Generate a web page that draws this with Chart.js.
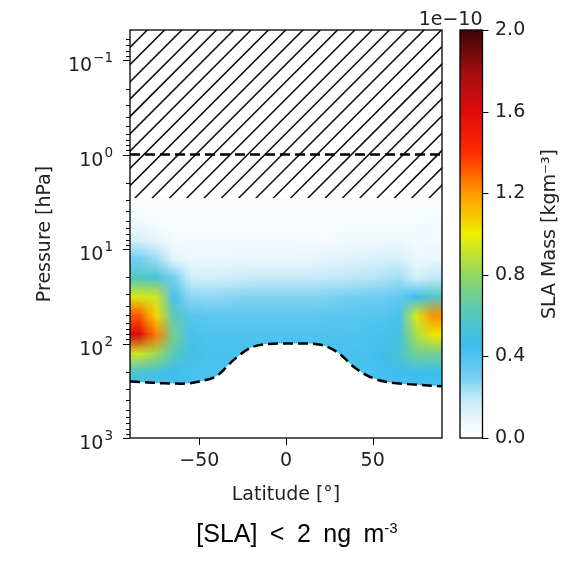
<!DOCTYPE html>
<html>
<head>
<meta charset="utf-8">
<script src="https://cdn.jsdelivr.net/npm/chart.js@4.4.1/dist/chart.umd.min.js"></script>
<style>
  html, body { margin: 0; padding: 0; background: #fff; }
  #wrap { position: relative; width: 574px; height: 564px; }
  #caption {
    position: absolute; left: 20px; top: 519px; width: 554px; text-align: center;
    font-family: 'Liberation Sans', Arial, sans-serif; font-size: 25px; line-height: 28px;
    word-spacing: 5.5px; color: #000;
  }
  #caption sup { font-size: 15px; vertical-align: 9px; line-height: 0; }
</style>
</head>
<body>
<div id="wrap">
  <canvas id="slaChart" width="574" height="564"></canvas>
  <div id="caption">[SLA] &lt; 2 ng m<sup>-3</sup></div>
</div>
<script>
// latitude cell centres (°) and pressure levels (hPa) of the SLA field
const latitudes = [-85, -75, -65, -55, -45, -35, -25, -15, -5, 5, 15, 25, 35, 45, 55, 65, 75, 85];
const pressureLevels = [3.16, 5.01, 7.94, 12.6, 20.0, 31.6, 50.1, 79.4, 126, 200, 316];

// SLA mass, units of 1e-10 kg m^-3, one row per pressure level
const slaMass = [
  [0.03, 0.02, 0.02, 0.02, 0.02, 0.02, 0.02, 0.02, 0.02, 0.02, 0.02, 0.02, 0.02, 0.02, 0.02, 0.02, 0.03, 0.03],
  [0.06, 0.04, 0.03, 0.03, 0.03, 0.03, 0.03, 0.03, 0.03, 0.03, 0.03, 0.03, 0.03, 0.03, 0.03, 0.04, 0.04, 0.05],
  [0.14, 0.10, 0.05, 0.05, 0.05, 0.05, 0.05, 0.05, 0.05, 0.05, 0.05, 0.05, 0.06, 0.06, 0.06, 0.07, 0.05, 0.06],
  [0.30, 0.25, 0.11, 0.08, 0.08, 0.08, 0.09, 0.09, 0.09, 0.09, 0.10, 0.11, 0.12, 0.13, 0.14, 0.15, 0.08, 0.09],
  [0.60, 0.55, 0.30, 0.16, 0.15, 0.16, 0.17, 0.18, 0.18, 0.18, 0.18, 0.19, 0.20, 0.21, 0.22, 0.24, 0.15, 0.20],
  [0.95, 0.92, 0.42, 0.27, 0.26, 0.27, 0.28, 0.28, 0.28, 0.28, 0.28, 0.29, 0.30, 0.31, 0.32, 0.35, 0.45, 0.60],
  [1.32, 1.05, 0.62, 0.38, 0.36, 0.36, 0.36, 0.36, 0.36, 0.36, 0.36, 0.37, 0.37, 0.38, 0.39, 0.42, 0.95, 1.22],
  [1.62, 1.25, 0.70, 0.42, 0.40, 0.40, 0.40, 0.40, 0.40, 0.40, 0.40, 0.40, 0.40, 0.41, 0.42, 0.50, 0.85, 1.02],
  [0.92, 0.82, 0.62, 0.48, 0.42, 0.42, 0.42, 0.42, 0.42, 0.42, 0.42, 0.42, 0.42, 0.42, 0.45, 0.55, 0.70, 0.70],
  [0.55, 0.50, 0.45, 0.42, 0.41, 0.41, 0.41, 0.41, 0.41, 0.41, 0.41, 0.41, 0.41, 0.42, 0.43, 0.45, 0.46, 0.45],
  [0.42, 0.42, 0.40, 0.40, 0.40, 0.40, 0.40, 0.40, 0.40, 0.40, 0.40, 0.40, 0.40, 0.40, 0.40, 0.42, 0.43, 0.42]
];

// tropopause (dashed curve)
const tropLat = [-90, -80, -70, -60, -50, -40, -30, -20, -10, 0, 10, 20, 30, 40, 50, 60, 70, 80, 90];
const tropPressure = [252, 258, 264, 266, 252, 220, 148, 110, 101, 100, 100, 103, 125, 182, 232, 258, 269, 276, 284];

const hatchTop = 2.9; // hatched above this level
const refLevel = 1;   // dashed line at 1 hPa

const latTicks = [-50, 0, 50];
const pressureTicks = [0.1, 1, 10, 100, 1000];
const cbTicks = [0, 0.4, 0.8, 1.2, 1.6, 2.0];

// colour map (value in 1e-10)
const cmapStops = [0, 0.1, 0.2, 0.3, 0.45, 0.6, 0.8, 1.0, 1.2, 1.4, 1.6, 1.8, 2.0];
const cmapColors = ['#ffffff', '#e8f6fc', '#bfe8f8', '#74cff1', '#3ebeee', '#52c7c2', '#93d862',
  '#f0ef00', '#ff9900', '#ff2b00', '#e00c0c', '#9e0e0e', '#3a0505'];

const textColor = '#222';
const font = { family: 'DejaVu Sans', size: 19 };
const hatchGap = 17.3;

const hexRgb = h => [1, 3, 5].map(i => parseInt(h.slice(i, i + 2), 16));
const colorFor = v => {
  if (v <= cmapStops[0]) return hexRgb(cmapColors[0]);
  for (let i = 1; i < cmapStops.length; i++) {
    if (v <= cmapStops[i]) {
      const t = (v - cmapStops[i - 1]) / (cmapStops[i] - cmapStops[i - 1]);
      const a = hexRgb(cmapColors[i - 1]), b = hexRgb(cmapColors[i]);
      return a.map((c, k) => Math.round(c + (b[k] - c) * t));
    }
  }
  return hexRgb(cmapColors[cmapColors.length - 1]);
};

const supDigits = { '-': '\u2212', '0': '0', '1': '1', '2': '2', '3': '3' };
const isDecade = v => Math.abs(Math.log10(v) - Math.round(Math.log10(v))) < 1e-6;
const isWholeSig = v => {
  const s = v / Math.pow(10, Math.floor(Math.log10(v) + 1e-9));
  return Math.abs(s - Math.round(s)) < 1e-6;
};

const heatmapPlugin = {
  id: 'heatmap',
  beforeDatasetsDraw(chart) {
    const { ctx, chartArea: a, scales: { x, y } } = chart;
    const off = document.createElement('canvas');
    off.width = latitudes.length;
    off.height = pressureLevels.length;
    const octx = off.getContext('2d');
    const img = octx.createImageData(off.width, off.height);
    slaMass.forEach((row, r) => row.forEach((v, c) => {
      const rgb = colorFor(v);
      const k = (r * off.width + c) * 4;
      img.data[k] = rgb[0]; img.data[k + 1] = rgb[1]; img.data[k + 2] = rgb[2]; img.data[k + 3] = 255;
    }));
    octx.putImageData(img, 0, 0);

    const dLat = latitudes[1] - latitudes[0];
    const half = Math.sqrt(pressureLevels[1] / pressureLevels[0]);
    const x0 = x.getPixelForValue(latitudes[0] - dLat / 2);
    const x1 = x.getPixelForValue(latitudes[latitudes.length - 1] + dLat / 2);
    const y0 = y.getPixelForValue(pressureLevels[0] / half);
    const y1 = y.getPixelForValue(pressureLevels[pressureLevels.length - 1] * half);
    const hatchY = y.getPixelForValue(hatchTop);

    ctx.save();
    ctx.beginPath();
    ctx.rect(a.left, hatchY, a.right - a.left, a.bottom - hatchY);
    ctx.clip();
    ctx.imageSmoothingEnabled = true;
    ctx.drawImage(off, x0, y0, x1 - x0, y1 - y0);
    ctx.restore();

    // hatching of the region above hatchTop
    const h = hatchY - a.top;
    ctx.save();
    ctx.beginPath();
    ctx.rect(a.left, a.top, a.right - a.left, h);
    ctx.clip();
    ctx.strokeStyle = '#111';
    ctx.lineWidth = 1.6;
    ctx.beginPath();
    for (let xs = a.left; xs - h < a.right + hatchGap; xs += hatchGap) {
      ctx.moveTo(xs, a.top);
      ctx.lineTo(xs - h, a.top + h);
    }
    ctx.stroke();
    ctx.restore();
  }
};

const decorPlugin = {
  id: 'decor',
  afterDraw(chart) {
    const { ctx, chartArea: a, scales: { x, y, cb } } = chart;
    ctx.save();
    ctx.strokeStyle = '#000';
    ctx.lineWidth = 1.3;
    ctx.strokeRect(a.left, a.top, a.right - a.left, a.bottom - a.top);

    // y tick marks (major at decades, minor otherwise)
    ctx.lineWidth = 1;
    ctx.beginPath();
    y.ticks.forEach(t => {
      if (!isWholeSig(t.value)) return;
      const py = Math.round(y.getPixelForValue(t.value)) + 0.5;
      const len = isDecade(t.value) ? 7 : 4;
      ctx.moveTo(a.left - len, py);
      ctx.lineTo(a.left, py);
    });
    // x tick marks
    x.ticks.forEach(t => {
      const px = Math.round(x.getPixelForValue(t.value)) + 0.5;
      ctx.moveTo(px, a.bottom);
      ctx.lineTo(px, a.bottom + 7);
    });
    ctx.stroke();

    // y tick labels: 10 with a raised exponent
    ctx.fillStyle = textColor;
    ctx.textAlign = 'right';
    ctx.textBaseline = 'alphabetic';
    pressureTicks.forEach(p => {
      const py = y.getPixelForValue(p);
      const e = String(Math.round(Math.log10(p))).split('').map(ch => supDigits[ch]).join('');
      ctx.font = `13.5px ${font.family}`;
      const ew = ctx.measureText(e).width;
      ctx.fillText(e, 113, py + 2);
      ctx.font = `${font.size}px ${font.family}`;
      ctx.fillText('10', 113 - ew - 1, py + 11);
    });

    // colour bar
    const bx = cb.left + 18, bw = 22.5;
    const yTop = cb.getPixelForValue(cbTicks[cbTicks.length - 1]);
    const yBot = cb.getPixelForValue(cbTicks[0]);
    const grad = ctx.createLinearGradient(0, yBot, 0, yTop);
    cmapStops.forEach((s, i) => grad.addColorStop(s / cmapStops[cmapStops.length - 1], cmapColors[i]));
    ctx.fillStyle = grad;
    ctx.fillRect(bx, yTop, bw, yBot - yTop);
    ctx.lineWidth = 1.3;
    ctx.strokeRect(bx, yTop, bw, yBot - yTop);
    ctx.lineWidth = 1;
    ctx.beginPath();
    cb.ticks.forEach(t => {
      const py = Math.round(cb.getPixelForValue(t.value)) + 0.5;
      ctx.moveTo(bx + bw, py);
      ctx.lineTo(bx + bw + 6, py);
    });
    ctx.stroke();

    ctx.fillStyle = textColor;
    ctx.font = `${font.size}px ${font.family}`;
    ctx.textAlign = 'right';
    ctx.fillText('1e\u221210', bx + bw, 25);

    ctx.translate(550, (yTop + yBot) / 2);
    ctx.rotate(-Math.PI / 2);
    ctx.textAlign = 'center';
    ctx.textBaseline = 'middle';
    ctx.fillText('SLA Mass [kgm⁻³]', 0, 0);
    ctx.restore();
  }
};

const ctx = document.getElementById('slaChart').getContext('2d');
new Chart(ctx, {
  type: 'line',
  data: {
    datasets: [
      {
        label: 'tropopause',
        data: tropLat.map((lat, i) => ({ x: lat, y: tropPressure[i] })),
        fill: 'start',
        backgroundColor: '#ffffff',
        borderColor: '#000',
        borderWidth: 2.5,
        borderDash: [10, 5],
        cubicInterpolationMode: 'monotone',
        pointRadius: 0
      },
      {
        label: '1 hPa',
        data: [{ x: -90, y: refLevel }, { x: 90, y: refLevel }],
        fill: false,
        borderColor: '#000',
        borderWidth: 2.5,
        borderDash: [10, 5],
        pointRadius: 0
      }
    ]
  },
  options: {
    responsive: false,
    animation: false,
    events: [],
    layout: { padding: { top: 30, left: 0, right: 0, bottom: 0 } },
    plugins: { legend: { display: false }, tooltip: { enabled: false } },
    scales: {
      x: {
        type: 'linear',
        min: -90,
        max: 90,
        afterBuildTicks: s => { s.ticks = latTicks.map(v => ({ value: v })); },
        afterFit: s => { s.height = 126; s.paddingLeft = 0; s.paddingRight = 0; },
        grid: { display: false, drawTicks: false },
        border: { display: false },
        ticks: {
          color: textColor, font, padding: 12, maxRotation: 0, autoSkip: false,
          callback: v => (v < 0 ? '\u2212' + Math.abs(v) : String(v))
        },
        title: { display: true, text: 'Latitude [°]', color: textColor, font, padding: { top: 0, bottom: 58 } }
      },
      y: {
        type: 'logarithmic',
        position: 'left',
        reverse: true,
        min: 0.048,
        max: 1000,
        afterFit: s => { s.width = 130; s.paddingTop = 0; s.paddingBottom = 0; },
        grid: { display: false, drawTicks: false },
        border: { display: false },
        ticks: { display: false },
        title: { display: true, text: 'Pressure [hPa]', color: textColor, font, padding: { top: 34, bottom: 0 } }
      },
      cb: {
        type: 'linear',
        position: 'right',
        min: 0,
        max: 2,
        afterBuildTicks: s => { s.ticks = cbTicks.map(v => ({ value: v })); },
        afterFit: s => { s.width = 132; s.paddingTop = 0; s.paddingBottom = 0; },
        grid: { display: false, drawTicks: false },
        border: { display: false },
        ticks: { color: textColor, font, padding: 53, callback: v => v.toFixed(1) }
      }
    }
  },
  plugins: [heatmapPlugin, decorPlugin]
});
</script>
</body>
</html>
